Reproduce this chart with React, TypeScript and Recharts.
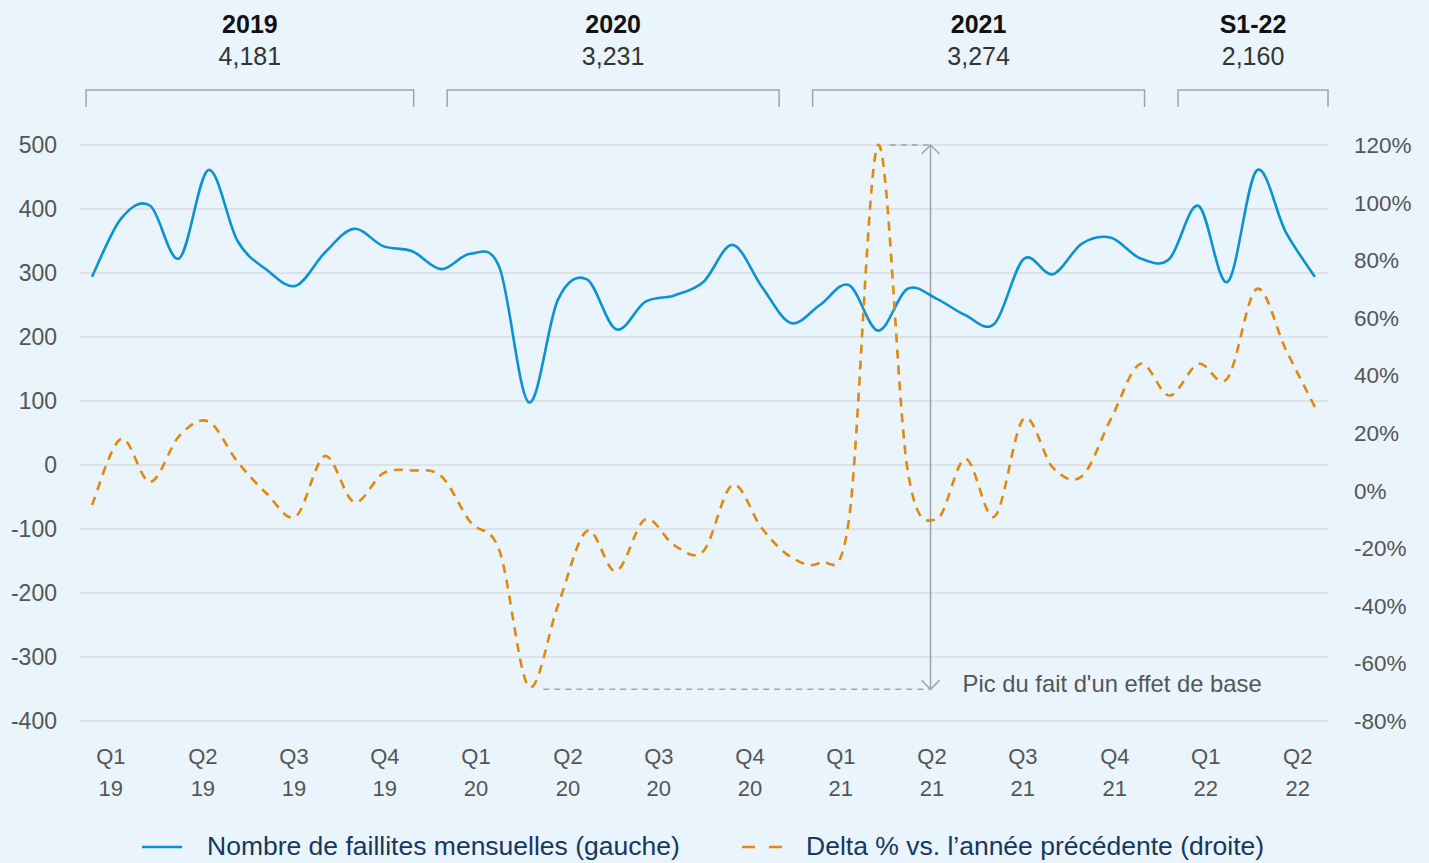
import React from 'react';
import { LineChart, Line, XAxis, YAxis, CartesianGrid, ReferenceLine } from 'recharts';

// Monthly data, Jan 2019 .. Jul 2022
const months = [
  '2019-01','2019-02','2019-03','2019-04','2019-05','2019-06','2019-07','2019-08','2019-09','2019-10','2019-11','2019-12',
  '2020-01','2020-02','2020-03','2020-04','2020-05','2020-06','2020-07','2020-08','2020-09','2020-10','2020-11','2020-12',
  '2021-01','2021-02','2021-03','2021-04','2021-05','2021-06','2021-07','2021-08','2021-09','2021-10','2021-11','2021-12',
  '2022-01','2022-02','2022-03','2022-04','2022-05','2022-06','2022-07',
];
// Nombre de faillites mensuelles (gauche)
const faillites = [
  294, 385, 405, 323, 461, 350, 305, 280, 332, 369, 342, 334,
  306, 330, 308, 98, 258, 290, 212, 255, 265, 286, 344, 279,
  222, 250, 281, 210, 275, 260, 234, 221, 322, 298, 346, 355,
  323, 322, 405, 286, 460, 364, 294,
];
// Delta % vs. l'année précédente (droite)
const delta = [
  -5, 18, 3, 19, 24, 10, -1, -9, 12, -4, 6, 7,
  5, -11, -21, -68, -40, -14, -28, -10, -19, -21, 2, -13,
  -23, -25, -10, 120, 8, -10, 11, -9, 25, 8, 5, 25,
  44, 33, 44, 39, 70, 49, 29,
];

const leftTicks = [-400, -300, -200, -100, 0, 100, 200, 300, 400, 500];
const rightTicks = [-80, -60, -40, -20, 0, 20, 40, 60, 80, 100, 120];

const quarterLabels = ['Q1','Q2','Q3','Q4','Q1','Q2','Q3','Q4','Q1','Q2','Q3','Q4','Q1','Q2'];
const quarterYears = ['19','19','19','19','20','20','20','20','21','21','21','21','22','22'];
// positions of the quarter labels along the month axis
const quarterTicks = [0.65, 3.81, 6.94, 10.06, 13.19, 16.35, 19.47, 22.6, 25.72, 28.85, 31.97, 35.13, 38.25, 41.41];

const periodLabels = ['2019', '2020', '2021', 'S1-22'];
const periodTotals = ['4,181', '3,231', '3,274', '2,160'];
const periodSpans: [number, number][] = [[-0.2, 11.05], [12.2, 23.6], [24.75, 36.15], [37.3, 42.45]];

const data = months.map((m, i) => ({ i, m, faillites: faillites[i], delta: delta[i] }));

const FONT = '"Liberation Sans", Arial, Helvetica, sans-serif';
const BLUE = '#0A92D3';
const ORANGE = '#E0890A';
const GRAY = '#A3A3A3';

// Excel-like smoothed line (uniform Catmull-Rom as cubic Bezier)
const smoothCurve: any = (context: any) => {
  let pts: number[][] = [];
  return {
    areaStart() {},
    areaEnd() {},
    lineStart() { pts = []; },
    point(x: number, y: number) { pts.push([+x, +y]); },
    lineEnd() {
      const n = pts.length;
      if (!n) return;
      context.moveTo(pts[0][0], pts[0][1]);
      for (let k = 0; k < n - 1; k++) {
        const p0 = pts[k - 1] || pts[k];
        const p1 = pts[k];
        const p2 = pts[k + 1];
        const p3 = pts[k + 2] || p2;
        context.bezierCurveTo(
          p1[0] + (p2[0] - p0[0]) / 6, p1[1] + (p2[1] - p0[1]) / 6,
          p2[0] - (p3[0] - p1[0]) / 6, p2[1] - (p3[1] - p1[1]) / 6,
          p2[0], p2[1],
        );
      }
    },
  };
};

const QuarterTick = (props: any) => {
  const { x, y, payload } = props;
  const idx = quarterTicks.indexOf(payload.value);
  return (
    <text x={x} textAnchor="middle" fill="#555" fontSize={22} fontFamily={FONT}>
      <tspan x={x} y={y + 43}>{quarterLabels[idx]}</tspan>
      <tspan x={x} y={y + 75}>{quarterYears[idx]}</tspan>
    </text>
  );
};

const makeBracket = (label: string, total: string) => (props: any) => {
  const { x1, y1, x2 } = props;
  const cx = (x1 + x2) / 2;
  return (
    <g>
      <path d={`M${x1},${y1 + 17} L${x1},${y1} L${x2},${y1} L${x2},${y1 + 17}`} fill="none" stroke={GRAY} strokeWidth={1.5} />
      <text x={cx} y={y1 - 57} textAnchor="middle" fontSize={25} fontWeight="bold" fill="#111" fontFamily={FONT}>{label}</text>
      <text x={cx} y={y1 - 25} textAnchor="middle" fontSize={25} fill="#333" fontFamily={FONT}>{total}</text>
    </g>
  );
};

const ArrowShape = (props: any) => {
  const { x1, y1, x2, y2 } = props;
  const top = Math.min(y1, y2);
  const bot = Math.max(y1, y2);
  return (
    <g>
      <line x1={x1} y1={top} x2={x2} y2={bot} stroke={GRAY} strokeWidth={1.5} />
      <path d={`M${x1 - 9},${top + 9} L${x1},${top} L${x1 + 9},${top + 9}`} fill="none" stroke={GRAY} strokeWidth={1.5} />
      <path d={`M${x1 - 9},${bot - 9} L${x1},${bot} L${x1 + 9},${bot - 9}`} fill="none" stroke={GRAY} strokeWidth={1.5} />
      <text x={x1 + 32} y={bot + 3} fontSize={23.8} fill="#555" fontFamily={FONT}>Pic du fait d'un effet de base</text>
    </g>
  );
};

export default function App() {
  return (
    <div style={{ position: 'absolute', left: 0, top: 0, width: 1429, height: 863, background: '#EAF4FC', overflow: 'hidden' }}>
      <LineChart width={1429} height={863} data={data} margin={{ top: 145, right: 0, left: 0, bottom: 52 }}>
        <CartesianGrid yAxisId="left" vertical={false} stroke="#D8DCDF" strokeWidth={1.3} />
        <XAxis
          dataKey="i"
          type="number"
          domain={[-0.41, 42.45]}
          ticks={quarterTicks}
          interval={0}
          tick={<QuarterTick />}
          axisLine={false}
          tickLine={false}
          tickSize={0}
          tickMargin={0}
          height={90}
          allowDataOverflow
        />
        <YAxis
          yAxisId="left"
          orientation="left"
          domain={[-400, 500]}
          ticks={leftTicks}
          interval={0}
          width={80}
          axisLine={false}
          tickLine={false}
          tickSize={0}
          tickMargin={23}
          tick={{ fill: '#555', fontSize: 23, fontFamily: FONT }}
        />
        <YAxis
          yAxisId="right"
          orientation="right"
          domain={[-80, 120]}
          ticks={rightTicks}
          interval={0}
          width={101}
          axisLine={false}
          tickLine={false}
          tickSize={0}
          tickMargin={26}
          tickFormatter={(v: number) => `${v}%`}
          tick={{ fill: '#555', fontSize: 22.5, fontFamily: FONT, textAnchor: 'start' }}
        />
        {periodLabels.map((lab, k) => (
          <ReferenceLine
            key={lab}
            yAxisId="left"
            ifOverflow="visible"
            segment={[{ x: periodSpans[k][0], y: 586 }, { x: periodSpans[k][1], y: 586 }]}
            stroke={GRAY}
            shape={makeBracket(lab, periodTotals[k])}
          />
        ))}
        <ReferenceLine
          yAxisId="right"
          ifOverflow="visible"
          segment={[{ x: 15.5, y: -69 }, { x: 28.8, y: -69 }]}
          stroke={GRAY}
          strokeWidth={1.5}
          strokeDasharray="6 5"
        />
        <ReferenceLine
          yAxisId="right"
          ifOverflow="visible"
          segment={[{ x: 27.4, y: 120 }, { x: 28.8, y: 120 }]}
          stroke={GRAY}
          strokeWidth={1.5}
          strokeDasharray="6 5"
        />
        <ReferenceLine
          yAxisId="right"
          ifOverflow="visible"
          segment={[{ x: 28.8, y: 120 }, { x: 28.8, y: -69 }]}
          stroke={GRAY}
          shape={ArrowShape}
        />
        <Line
          yAxisId="left"
          dataKey="faillites"
          type={smoothCurve}
          stroke={BLUE}
          strokeWidth={2.6}
          dot={false}
          activeDot={false}
          isAnimationActive={false}
        />
        <Line
          yAxisId="right"
          dataKey="delta"
          type={smoothCurve}
          stroke={ORANGE}
          strokeWidth={2.6}
          strokeDasharray="9 7"
          dot={false}
          activeDot={false}
          isAnimationActive={false}
        />
      </LineChart>
      <svg width={1429} height={863} style={{ position: 'absolute', left: 0, top: 0, pointerEvents: 'none' }}>
        <line x1={142} y1={847} x2={182} y2={847} stroke={BLUE} strokeWidth={2.6} />
        <text x={207} y={855} fontSize={26.5} fill="#17375E" fontFamily={FONT}>Nombre de faillites mensuelles (gauche)</text>
        <line x1={742} y1={847} x2={783} y2={847} stroke={ORANGE} strokeWidth={2.6} strokeDasharray="13 14" />
        <text x={806} y={855} fontSize={26.5} fill="#17375E" fontFamily={FONT}>Delta % vs. l’année précédente (droite)</text>
      </svg>
    </div>
  );
}
